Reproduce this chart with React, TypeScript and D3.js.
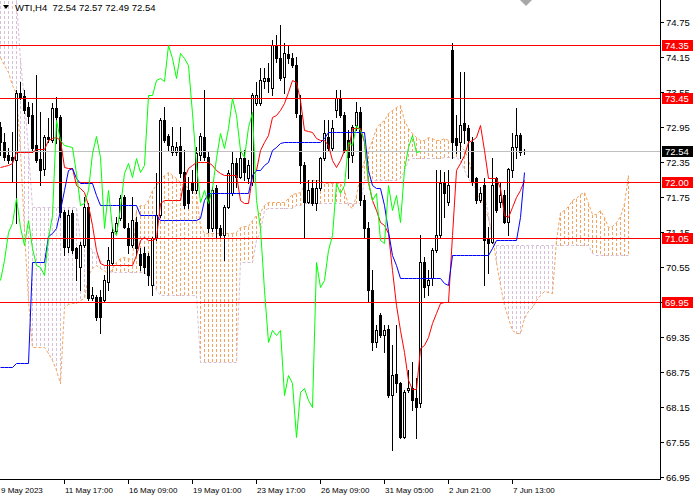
import { useEffect, useRef } from 'react';
import * as d3 from 'd3';

// WTI H4 candles, bar 0 = 9 May 2023 01:00
const opens = [
  72.95, 72.69, 72.47, 72.43, 72.38, 73.53, 73.48, 73.29, 73.15, 72.64,
  72.40, 72.23, 72.78, 72.73, 73.28, 73.12, 71.49, 70.89, 71.47, 70.87,
  70.55, 70.92, 71.58, 70.02, 70.03, 70.03, 69.98, 70.29, 70.61, 71.17,
  71.39, 71.75, 71.22, 70.92, 71.32, 70.77, 70.79, 70.73, 70.24, 71.04,
  71.44, 73.07, 72.79, 72.52, 72.52, 72.62, 72.18, 71.87, 72.00, 71.87,
  72.47, 72.78, 72.43, 71.22, 71.90, 71.22, 71.09, 71.58, 71.82, 72.33,
  72.09, 72.42, 72.07, 72.00, 73.36, 73.36, 73.74, 73.79, 73.62, 74.36,
  74.13, 73.81, 74.20, 74.13, 74.01, 73.15, 72.30, 71.66, 71.90, 71.64,
  71.90, 72.42, 72.78, 72.59, 73.24, 73.45, 73.15, 72.73, 72.47, 72.98,
  73.21, 71.70, 71.22, 70.15, 69.26, 69.72, 69.38, 69.48, 68.35, 68.71,
  68.56, 67.63, 68.44, 68.47, 68.30, 68.21, 70.63, 70.24, 70.36, 70.84,
  71.09, 72.00, 71.66, 74.27, 72.76, 72.69, 73.02, 72.93, 72.69, 72.07,
  71.70, 71.95, 71.04, 70.98, 72.07, 71.66, 71.78, 71.32, 72.21, 72.61,
  72.81, 72.54,
];
const highs = [
  73.03, 72.85, 72.59, 72.86, 73.58, 73.72, 73.58, 73.38, 73.36, 73.84,
  73.21, 72.81, 73.10, 73.36, 73.46, 73.15, 71.52, 71.52, 71.52, 70.89,
  70.98, 71.75, 71.64, 70.20, 70.07, 70.15, 70.41, 70.89, 71.23, 71.40,
  71.78, 71.78, 71.30, 71.75, 71.40, 70.87, 70.89, 70.79, 71.06, 72.16,
  73.10, 73.29, 72.83, 72.95, 72.69, 72.95, 72.55, 72.09, 72.21, 72.61,
  72.85, 73.58, 72.52, 71.92, 71.95, 71.27, 71.61, 72.21, 72.52, 72.42,
  72.52, 72.55, 72.38, 73.53, 73.72, 73.96, 73.96, 74.05, 74.44, 74.53,
  74.70, 74.39, 74.36, 74.22, 74.15, 73.50, 72.35, 72.04, 72.04, 72.04,
  72.43, 73.07, 73.07, 73.07, 73.58, 73.58, 73.21, 72.90, 72.98, 73.38,
  73.29, 71.78, 71.32, 70.50, 69.55, 69.76, 69.55, 69.55, 69.21, 69.55,
  68.58, 68.44, 68.78, 68.92, 68.64, 71.09, 70.72, 70.50, 70.87, 72.21,
  72.21, 72.18, 72.21, 74.39, 73.15, 73.89, 73.89, 72.98, 72.78, 72.09,
  71.92, 72.07, 71.23, 72.42, 72.09, 72.00, 71.87, 72.25, 72.85, 73.28,
  72.85, 72.57,
];
const lows = [
  72.47, 72.38, 72.33, 72.00, 71.30, 73.43, 73.19, 73.02, 72.52, 72.35,
  71.95, 72.13, 72.69, 72.69, 72.68, 71.40, 70.75, 70.80, 70.79, 70.32,
  70.15, 70.89, 69.98, 69.98, 69.64, 69.41, 69.95, 70.15, 70.58, 71.13,
  71.35, 71.22, 70.79, 70.89, 70.75, 70.50, 70.44, 70.24, 70.07, 71.01,
  71.40, 72.69, 72.55, 72.47, 72.47, 72.09, 71.56, 71.56, 71.82, 71.82,
  72.38, 72.38, 71.15, 71.17, 71.06, 71.04, 70.67, 71.56, 71.78, 71.92,
  72.07, 72.04, 71.99, 71.95, 73.33, 73.33, 73.62, 73.55, 73.50, 74.06,
  73.75, 73.53, 74.05, 73.98, 73.12, 71.99, 71.04, 71.64, 71.61, 71.52,
  71.87, 72.38, 72.55, 72.55, 73.12, 73.12, 72.52, 72.07, 72.35, 72.90,
  71.61, 71.06, 69.95, 69.12, 69.18, 69.35, 69.09, 68.32, 67.41, 68.40,
  67.61, 67.61, 68.40, 68.09, 67.61, 68.15, 70.03, 70.07, 70.24, 70.80,
  71.04, 71.40, 71.61, 72.42, 72.50, 72.42, 72.68, 72.09, 71.95, 71.64,
  71.66, 70.24, 70.44, 70.96, 71.49, 71.58, 71.30, 71.09, 72.09, 72.42,
  72.47, 72.49,
];
const closes = [
  72.69, 72.43, 72.38, 72.38, 73.53, 73.46, 73.24, 73.14, 72.59, 72.38,
  72.21, 72.78, 72.74, 73.28, 73.12, 71.49, 70.89, 71.44, 70.84, 70.70,
  70.92, 71.58, 70.02, 70.07, 69.69, 69.69, 70.32, 70.67, 71.15, 71.30,
  71.73, 71.23, 70.92, 71.35, 70.87, 70.58, 70.55, 70.41, 71.04, 71.44,
  73.07, 72.73, 72.64, 72.62, 72.61, 72.16, 71.61, 71.64, 71.87, 72.50,
  72.79, 72.43, 71.22, 71.87, 71.22, 71.09, 71.58, 72.16, 72.33, 72.09,
  72.42, 72.18, 72.30, 73.50, 73.50, 73.75, 73.79, 73.74, 74.36, 74.13,
  73.79, 74.22, 74.13, 74.01, 73.19, 72.30, 71.66, 71.87, 71.64, 71.90,
  72.42, 72.85, 72.59, 72.93, 73.45, 73.15, 72.55, 72.43, 72.95, 73.21,
  71.70, 71.22, 70.15, 69.26, 69.47, 69.38, 69.47, 68.35, 68.69, 68.56,
  67.63, 68.40, 68.47, 68.27, 68.15, 70.63, 70.20, 70.32, 70.84, 71.09,
  71.99, 71.82, 71.95, 72.69, 72.64, 72.98, 72.90, 72.73, 72.00, 71.70,
  71.82, 71.01, 70.96, 71.95, 71.52, 71.78, 71.32, 72.23, 72.61, 72.81,
  72.52, 72.54,
];

// Ichimoku lines, one value per bar
const tenkan = [
  72.26, 72.28, 72.30, 72.33, 72.52, 72.52, 72.52, 72.52, 72.52, 72.57,
  72.57, 72.57, 72.73, 72.76, 72.78, 72.73, 72.26, 72.25, 72.25, 71.95,
  71.90, 71.83, 71.61, 71.27, 70.84, 70.61, 70.58, 70.58, 70.58, 70.58,
  70.58, 70.58, 70.58, 70.58, 70.75, 71.01, 71.06, 71.01, 71.01, 71.04,
  71.64, 71.70, 71.70, 71.70, 71.70, 71.70, 72.07, 72.25, 72.30, 72.35,
  72.35, 72.35, 72.35, 72.30, 72.21, 72.16, 72.13, 72.13, 72.13, 72.13,
  71.70, 71.64, 71.64, 72.13, 72.21, 72.55, 72.69, 72.81, 73.12, 73.15,
  73.24, 73.36, 73.55, 73.75, 73.72, 73.41, 72.90, 72.88, 72.86, 72.76,
  72.73, 72.73, 72.64, 72.38, 72.26, 72.38, 72.55, 72.55, 72.93, 72.93,
  72.93, 72.69, 72.00, 71.70, 71.52, 71.32, 71.27, 71.13, 70.50, 69.89,
  69.47, 69.09, 68.61, 68.45, 68.45, 69.16, 69.21, 69.35, 69.59, 69.76,
  69.93, 69.95, 69.95, 71.09, 72.21, 72.33, 72.47, 72.69, 72.73, 72.78,
  72.98, 72.55, 72.07, 72.07, 72.07, 71.90, 71.44, 71.40, 71.58, 71.75,
  71.87, 72.04,
];
const kijun = [
  68.83, 68.83, 68.83, 68.83, 68.90, 68.90, 68.90, 68.90, 70.63, 70.63,
  70.63, 70.63, 71.08, 71.13, 71.22, 71.52, 71.87, 72.21, 72.25, 72.07,
  71.99, 71.99, 71.99, 71.99, 71.78, 71.61, 71.61, 71.61, 71.61, 71.61,
  71.61, 71.61, 71.61, 71.61, 71.61, 71.44, 71.44, 71.44, 71.44, 71.44,
  71.35, 71.35, 71.35, 71.35, 71.35, 71.35, 71.35, 71.35, 71.35, 71.35,
  71.39, 71.70, 71.82, 71.82, 71.82, 71.82, 71.82, 71.82, 71.82, 71.82,
  71.82, 71.82, 71.82, 72.13, 72.21, 72.21, 72.30, 72.35, 72.55, 72.61,
  72.68, 72.69, 72.69, 72.69, 72.69, 72.69, 72.69, 72.69, 72.69, 72.69,
  72.69, 72.76, 72.86, 72.86, 72.86, 72.86, 72.86, 72.86, 72.86, 72.86,
  72.86, 72.86, 72.21, 71.95, 71.90, 71.90, 71.61, 71.17, 70.75, 70.58,
  70.36, 70.36, 70.36, 70.36, 70.36, 70.36, 70.36, 70.36, 70.36, 70.36,
  70.36, 70.27, 70.24, 70.75, 70.75, 70.75, 70.75, 70.75, 70.75, 70.75,
  70.75, 70.75, 70.75, 70.87, 71.01, 71.01, 71.01, 71.01, 71.01, 71.01,
  71.40, 72.18,
];
// cloud spans, already shifted 26 bars forward (158 bars)
const spanA = [
  74.15, 74.01, 73.89, 73.67, 73.53, 72.55, 71.17, 69.98, 69.18, 69.18,
  69.18, 69.18, 69.07, 68.95, 68.78, 68.56, 69.86, 69.91, 69.93, 69.93,
  69.98, 70.02, 70.41, 70.53, 70.58, 70.53, 70.50, 70.41, 70.53, 70.63,
  70.70, 70.72, 70.70, 70.67, 71.52, 71.61, 71.61, 71.70, 71.87, 71.95,
  72.04, 72.13, 72.18, 72.13, 72.07, 72.00, 71.94, 71.92, 71.87, 71.78,
  71.27, 71.13, 71.13, 71.13, 71.13, 71.13, 71.13, 71.13, 71.13, 71.15,
  71.23, 71.25, 71.25, 71.35, 71.44, 71.49, 71.61, 71.66, 71.66, 71.66,
  71.66, 71.66, 71.73, 71.80, 71.82, 71.83, 71.95, 72.04, 72.04, 72.04,
  72.04, 71.99, 71.99, 71.99, 71.99, 71.99, 71.87, 71.61, 71.56, 71.78,
  72.13, 72.38, 72.55, 72.73, 72.93, 73.02, 73.07, 73.19, 73.24, 73.29,
  73.33, 73.07, 72.93, 72.85, 72.78, 72.73, 72.73, 72.78, 72.76, 72.73,
  72.73, 72.76, 72.73, 72.71, 72.68, 72.64, 72.55, 72.42, 72.11, 71.83,
  71.71, 71.58, 71.39, 71.09, 70.63, 70.24, 69.89, 69.67, 69.47, 69.41,
  69.41, 69.67, 69.79, 69.86, 69.98, 70.07, 70.14, 70.12, 70.10, 71.01,
  71.49, 71.52, 71.59, 71.70, 71.73, 71.80, 71.83, 71.64, 71.46, 71.46,
  71.52, 71.40, 71.23, 71.25, 71.32, 71.42, 71.64, 72.13,
];
const spanB = [
  75.47, 75.47, 75.47, 75.47, 75.13, 74.10, 73.41, 72.55, 71.58, 71.58,
  71.58, 71.58, 71.58, 71.58, 71.58, 71.58, 71.58, 71.58, 71.58, 71.58,
  71.01, 70.96, 70.92, 70.84, 70.75, 70.67, 70.58, 70.50, 70.46, 70.46,
  70.46, 70.46, 70.46, 70.46, 70.46, 70.46, 70.46, 70.41, 70.32, 70.15,
  70.07, 70.07, 70.07, 70.07, 70.07, 70.07, 70.07, 70.07, 70.07, 70.07,
  68.92, 68.92, 68.92, 68.92, 68.92, 68.92, 68.92, 68.92, 68.92, 68.92,
  70.63, 70.63, 70.63, 70.63, 71.01, 71.17, 71.52, 71.56, 71.56, 71.56,
  71.56, 71.56, 71.56, 71.56, 71.61, 71.61, 71.64, 71.64, 71.64, 71.64,
  71.64, 71.64, 71.64, 71.64, 71.64, 71.64, 71.64, 71.64, 71.64, 71.64,
  71.64, 72.04, 72.04, 72.04, 72.04, 72.04, 72.04, 72.04, 72.04, 72.04,
  72.07, 72.21, 72.38, 72.42, 72.42, 72.42, 72.42, 72.42, 72.42, 72.42,
  72.42, 72.43, 72.43, 72.43, 72.43, 72.38, 72.21, 72.07, 71.95, 71.90,
  71.87, 71.78, 71.44, 71.01, 70.92, 70.92, 70.92, 70.92, 70.92, 70.92,
  70.92, 70.92, 70.92, 70.92, 70.92, 70.92, 70.92, 70.92, 70.92, 70.92,
  70.92, 70.92, 70.92, 70.92, 70.92, 70.92, 70.92, 70.92, 70.79, 70.75,
  70.75, 70.75, 70.75, 70.75, 70.75, 70.75, 70.75, 70.75,
];

const levels = [74.35, 73.45, 72.0, 71.05, 69.95];
const lastPrice = 72.54;
const priceTicks = [74.75, 74.15, 73.55, 72.95, 72.35, 71.75, 71.15, 70.55, 69.95, 69.35, 68.75, 68.15, 67.55, 66.95];
const dateLabels = ['9 May 2023', '11 May 17:00', '16 May 09:00', '19 May 01:00', '23 May 17:00', '26 May 09:00', '31 May 05:00', '2 Jun 21:00', '7 Jun 13:00'];
const dateBars = [0, 16, 32, 48, 64, 80, 96, 112, 128];

const FONT = '"Liberation Sans", Arial, sans-serif';

const App = () => {
  const svgRef = useRef(null);

  useEffect(() => {
    const svg = d3.select(svgRef.current);
    svg.selectAll('*').remove();

    const plotW = 660;
    const plotH = 479;
    const x = d3.scaleLinear().domain([0, 165]).range([0, plotW]);
    const y = d3.scaleLinear().domain([66.95, 74.75]).range([476.7, 22]);
    const px = (i) => Math.round(x(i)) + 0.5;
    const py = (v) => Math.round(y(v)) + 0.5;

    svg.append('rect').attr('width', 700).attr('height', 500).attr('fill', '#fff');

    svg.append('defs').append('clipPath').attr('id', 'plot')
      .append('rect').attr('x', 0).attr('y', 0).attr('width', plotW).attr('height', plotH);

    const plot = svg.append('g').attr('clip-path', 'url(#plot)');

    // cloud histogram
    const cloud = plot.append('g').attr('shape-rendering', 'crispEdges');
    spanA.forEach((a, i) => {
      const b = spanB[i];
      cloud.append('line')
        .attr('x1', px(i)).attr('x2', px(i))
        .attr('y1', py(Math.max(a, b))).attr('y2', py(Math.min(a, b)))
        .attr('stroke', a >= b ? '#F4A460' : '#D8BFD8')
        .attr('stroke-width', 1)
        .attr('stroke-dasharray', '3,2');
    });
    const spanLine = d3.line().x((_, i) => px(i)).y(d => py(d));
    plot.append('path').datum(spanA).attr('d', spanLine).attr('fill', 'none')
      .attr('stroke', '#F4A460').attr('stroke-dasharray', '3,2');
    plot.append('path').datum(spanB).attr('d', spanLine).attr('fill', 'none')
      .attr('stroke', '#D8BFD8').attr('stroke-dasharray', '3,2');

    // candles
    const candles = plot.append('g').attr('shape-rendering', 'crispEdges');
    opens.forEach((o, i) => {
      const c = closes[i];
      candles.append('line')
        .attr('x1', px(i)).attr('x2', px(i))
        .attr('y1', Math.round(y(highs[i]))).attr('y2', Math.round(y(lows[i])) + 1)
        .attr('stroke', '#000');
      const top = Math.round(y(Math.max(o, c)));
      const bot = Math.round(y(Math.min(o, c)));
      if (bot - top < 1) {
        candles.append('line')
          .attr('x1', Math.round(x(i)) - 1).attr('x2', Math.round(x(i)) + 2)
          .attr('y1', top + 0.5).attr('y2', top + 0.5)
          .attr('stroke', '#000');
      } else {
        candles.append('rect')
          .attr('x', Math.round(x(i)) - 0.5).attr('y', top + 0.5)
          .attr('width', 2).attr('height', bot - top)
          .attr('fill', c >= o ? '#fff' : '#000')
          .attr('stroke', '#000');
      }
    });

    // horizontal levels
    plot.append('line')
      .attr('x1', 0).attr('x2', plotW).attr('y1', py(lastPrice)).attr('y2', py(lastPrice))
      .attr('stroke', '#C0C0C0').attr('shape-rendering', 'crispEdges');
    levels.forEach(l => {
      plot.append('line')
        .attr('x1', 0).attr('x2', plotW).attr('y1', py(l)).attr('y2', py(l))
        .attr('stroke', '#FF0000').attr('shape-rendering', 'crispEdges');
    });

    // tenkan / kijun / chikou
    const barLine = d3.line().x((_, i) => px(i)).y(d => py(d));
    plot.append('path').datum(tenkan).attr('d', barLine).attr('fill', 'none').attr('stroke', '#FF0000');
    plot.append('path').datum(kijun).attr('d', barLine).attr('fill', 'none').attr('stroke', '#0000FF');
    const chikou = d3.line().x((_, i) => px(i)).y(d => py(d));
    plot.append('path').datum(closes.slice(26)).attr('d', chikou).attr('fill', 'none').attr('stroke', '#00FF00');

    // shift marker
    svg.append('path').attr('d', 'M520,0 L532,0 L526,6 Z').attr('fill', '#A8A8A8');

    // axes frame
    const frame = svg.append('g').attr('shape-rendering', 'crispEdges');
    frame.append('line').attr('x1', plotW + 0.5).attr('x2', plotW + 0.5).attr('y1', 0).attr('y2', plotH + 1).attr('stroke', '#000');
    frame.append('line').attr('x1', 0).attr('x2', plotW + 1).attr('y1', plotH + 0.5).attr('y2', plotH + 0.5).attr('stroke', '#000');

    priceTicks.forEach(t => {
      frame.append('line').attr('x1', plotW).attr('x2', plotW + 4).attr('y1', py(t)).attr('y2', py(t)).attr('stroke', '#000');
      svg.append('text').attr('x', plotW + 6).attr('y', Math.round(y(t)) + 4)
        .attr('font-family', FONT).attr('font-size', 9.5).attr('fill', '#000').text(t.toFixed(2));
    });

    dateBars.forEach((b, k) => {
      if (b > 0) {
        frame.append('line').attr('x1', px(b)).attr('x2', px(b)).attr('y1', plotH).attr('y2', plotH + 5).attr('stroke', '#000');
      }
      svg.append('text').attr('x', Math.round(x(b)) + 1).attr('y', plotH + 14)
        .attr('font-family', FONT).attr('font-size', 8).attr('fill', '#000').text(dateLabels[k]);
    });

    // price labels
    const tag = (v, bg) => {
      const g = svg.append('g');
      g.append('rect').attr('x', plotW + 2).attr('y', Math.round(y(v)) - 5).attr('width', 31).attr('height', 11).attr('fill', bg);
      g.append('text').attr('x', plotW + 5).attr('y', Math.round(y(v)) + 4)
        .attr('font-family', FONT).attr('font-size', 9.5).attr('fill', '#fff').text(v.toFixed(2));
    };
    levels.forEach(l => tag(l, '#FF0000'));
    tag(lastPrice, '#000');

    // header
    svg.append('path').attr('d', 'M3,5 L9,5 L6,9 Z').attr('fill', '#000');
    svg.append('text').attr('x', 15).attr('y', 11)
      .attr('font-family', FONT).attr('font-size', 9.5).attr('fill', '#000')
      .attr('xml:space', 'preserve')
      .text('WTI,H4  72.54 72.57 72.49 72.54');
  }, []);

  return (
    <svg ref={svgRef} width={700} height={500}
      style={{ position: 'absolute', left: 0, top: 0, display: 'block' }} />
  );
};

export default App;
